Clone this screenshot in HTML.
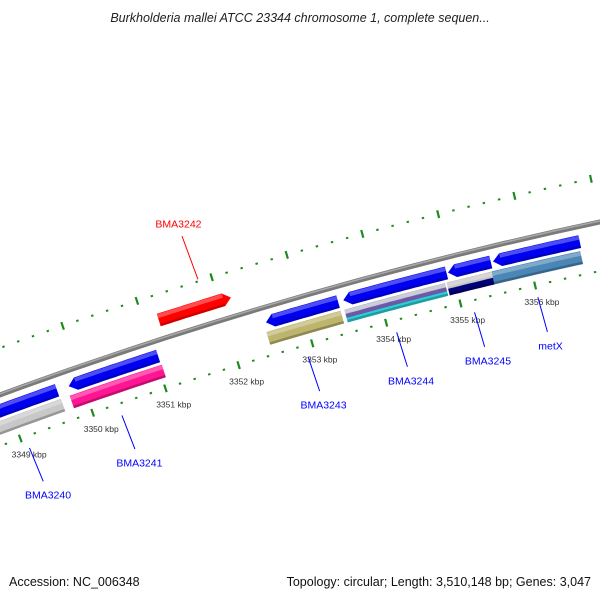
<!DOCTYPE html>
<html><head><meta charset="utf-8"><style>
html,body{margin:0;padding:0;background:#fff;width:600px;height:600px;overflow:hidden}
svg{display:block;font-family:"Liberation Sans",sans-serif}
</style></head><body>
<svg id="map" width="600" height="600" viewBox="0 0 600 600">
<text x="300" y="22" text-anchor="middle" font-size="12.5" font-style="italic" fill="#222">Burkholderia mallei ATCC 23344 chromosome 1, complete sequen...</text>
<text x="9" y="586" font-size="12.5" fill="#111">Accession: NC_006348</text>
<text x="591" y="586" text-anchor="end" font-size="12.5" fill="#111">Topology: circular; Length: 3,510,148 bp; Genes: 3,047</text>
<g id="plot"></g>
</svg>
<script>
const tickKbp = [3347,3348,3349,3350,3351,3352,3353,3354,3355,3356,3357,3358];
const tickLabels = ["3349 kbp","3350 kbp","3351 kbp","3352 kbp","3353 kbp","3354 kbp","3355 kbp","3356 kbp"];
const tickLabelKbp = [3349,3350,3351,3352,3353,3354,3355,3356];
const fwdGenes = [[3351.19,3352.16]];
const fwdNames = ["BMA3242"];
const revGenes = [[3347.74,3349.66],[3349.82,3351.04],[3352.5,3353.47],[3353.54,3354.92],[3354.94,3355.51],[3355.54,3356.69]];
const cogStart = [3347.67,3349.79,3352.47,3353.52,3354.89,3355.49];
const cogEnd = [3349.67,3351.05,3353.47,3354.87,3355.49,3356.67];
const cogColors = [["#c8c8c8"],["#ff1493"],["#bdb56e"],["#b8b8c8","#6a5aa8","#2ccfd6"],["#c4c4c4","#00007a"],["#4a86b6"]];
const labelNames = ["BMA3240","BMA3241","BMA3243","BMA3244","BMA3245","metX"];
const labelKbp = [3349.07,3350.35,3352.9,3354.1,3355.15,3356.0];

const NS="http://www.w3.org/2000/svg";
const CX=1520, CY=4541, R0=4416;
const ang = k => (-110.08 + (k-3349)*1.007)*Math.PI/180;
const pt = (r,k) => [CX + r*Math.cos(ang(k)), CY + r*Math.sin(ang(k))];
const g = document.getElementById('plot');
function mk(tag, attrs){const e=document.createElementNS(NS,tag);for(const a in attrs)e.setAttribute(a,attrs[a]);g.appendChild(e);return e;}
function arcPts(r,k0,k1){const a=[];const n=20;for(let i=0;i<=n;i++)a.push(pt(r,k0+(k1-k0)*i/n));return a;}
function poly(pts){return pts.map(p=>p[0].toFixed(1)+','+p[1].toFixed(1)).join(' ');}

let e=mk('polyline',{points:poly(arcPts(R0,3346,3359)),fill:'none',stroke:'#7a7a7a','stroke-width':5});


e=mk('polyline',{points:poly(arcPts(R0+1,3346,3359)),fill:'none',stroke:'#a8a8a8','stroke-width':1.5});



function ticks(r, name){
  for(let k=tickKbp[0];k<tickKbp[tickKbp.length-1];k+=0.2){
    const kk=Math.round(k*10)/10;
    const major=Math.abs(kk-Math.round(kk))<0.01;
    const h=major?4:1;
    const a=pt(r-h,kk), b=pt(r+h,kk);
    const t=mk('line',{x1:a[0],y1:a[1],x2:b[0],y2:b[1],stroke:'#1e8a1e','stroke-width':major?2.2:2.4});
    
    
  }
}
ticks(4368,'inner');
ticks(4460,'outer');

tickLabels.forEach((s,i)=>{
  const p=pt(4351,tickLabelKbp[i]);
  const t=mk('text',{x:p[0]+3,y:p[1]+3,'text-anchor':'middle','font-size':8.5,fill:'#333'});
  t.textContent=s;
  
  
});

function band(r,w,k0,k1,color,name){
  const outer=arcPts(r+w/2,k0,k1), inner=arcPts(r-w/2,k1,k0);
  const p=mk('polygon',{points:poly(outer.concat(inner)),fill:color});
  
  
  return p;
}
function arrow(r,w,k0,k1,color,dir,name){
  const ah=0.1;
  let pts;
  if(dir>0){
    pts=arcPts(r+w/2,k0,k1-ah).concat([pt(r,k1)]).concat(arcPts(r-w/2,k1-ah,k0));
  } else {
    pts=arcPts(r+w/2,k0+ah,k1).concat(arcPts(r-w/2,k1,k0+ah)).concat([pt(r,k0)]);
  }
  const p=mk('polygon',{points:poly(pts),fill:color});
  
  
  band(r+w/2-2.5,4,dir>0?k0:k0+ah,dir>0?k1-ah:k1,'rgba(255,255,255,0.3)',name+'-highlight');
  band(r-w/2+1.2,2.4,dir>0?k0:k0+ah,dir>0?k1-ah:k1,'rgba(0,0,0,0.2)',name+'-shadow');
}
fwdGenes.forEach((gn,i)=>arrow(4435,13,gn[0],gn[1],'#ff0000',1,'forward-gene-'+fwdNames[i]));
revGenes.forEach((gn,i)=>arrow(4401,13,gn[0],gn[1],'#0000f0',-1,'reverse-gene'));
cogStart.forEach((s,i)=>{
  const cols=cogColors[i];const W=13;const n=cols.length;
  cols.forEach((c,j)=>{
    const w=W/n;const r=4385+W/2-w*(j+0.5);
    band(r,w+0.3,s,cogEnd[i],c,'cog-band');
  });
  band(4385+W/2-2.5,4,s,cogEnd[i],'rgba(255,255,255,0.3)','cog-highlight');
  band(4385-W/2+1.2,2.4,s,cogEnd[i],'rgba(0,0,0,0.25)','cog-shadow');
});

labelNames.forEach((s,i)=>{
  const a=pt(4356,labelKbp[i]), b=pt(4320,labelKbp[i]+0.02), c=pt(4306,labelKbp[i]+0.02);
  const l=mk('line',{x1:a[0],y1:a[1],x2:b[0],y2:b[1],stroke:'#0000ff','stroke-width':1});
  
  
  const t=mk('text',{x:c[0],y:c[1]+4,'text-anchor':'middle','font-size':10.5,fill:'#0000ff'});
  t.textContent=s;
  
  
});
fwdNames.forEach((s,i)=>{
  const k=(fwdGenes[i][0]+fwdGenes[i][1])/2;
  const a=pt(4462,k+0.15), b=pt(4508,k+0.12), c=pt(4520,k+0.12);
  const l=mk('line',{x1:a[0],y1:a[1],x2:b[0],y2:b[1],stroke:'#ff0000','stroke-width':1});
  
  
  const t=mk('text',{x:c[0],y:c[1]+3,'text-anchor':'middle','font-size':10.5,fill:'#ff0000'});
  t.textContent=s;
  
  
});
</script>
</body></html>
